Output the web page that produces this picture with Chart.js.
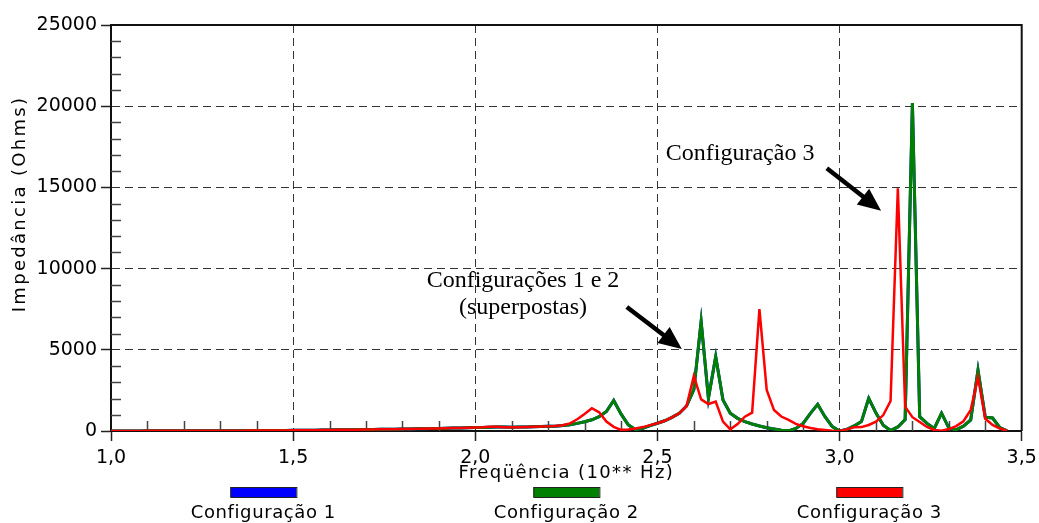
<!DOCTYPE html>
<html>
<head>
<meta charset="utf-8">
<script src="https://cdn.jsdelivr.net/npm/chart.js@4.4.1/dist/chart.umd.min.js"></script>
<style>
  html, body { margin: 0; padding: 0; background: #fff; }
  #wrap { width: 1039px; height: 523px; }
</style>
</head>
<body>
<div id="wrap"><canvas id="myChart"></canvas></div>
<script>
// log10 of frequency (Hz)
let freqs = [
  1.00, 1.02, 1.04, 1.06, 1.08, 1.10, 1.12, 1.14, 1.16, 1.18,
  1.20, 1.22, 1.24, 1.26, 1.28, 1.30, 1.32, 1.34, 1.36, 1.38,
  1.40, 1.42, 1.44, 1.46, 1.48, 1.50, 1.52, 1.54, 1.56, 1.58,
  1.60, 1.62, 1.64, 1.66, 1.68, 1.70, 1.72, 1.74, 1.76, 1.78,
  1.80, 1.82, 1.84, 1.86, 1.88, 1.90, 1.92, 1.94, 1.96, 1.98,
  2.00, 2.02, 2.04, 2.06, 2.08, 2.10, 2.12, 2.14, 2.16, 2.18,
  2.20, 2.22, 2.24, 2.26, 2.28, 2.30, 2.32, 2.34, 2.36, 2.38,
  2.40, 2.42, 2.44, 2.46, 2.48, 2.50, 2.52, 2.54, 2.56, 2.58,
  2.60, 2.62, 2.64, 2.66, 2.68, 2.70, 2.72, 2.74, 2.76, 2.78,
  2.80, 2.82, 2.84, 2.86, 2.88, 2.90, 2.92, 2.94, 2.96, 2.98,
  3.00, 3.02, 3.04, 3.06, 3.08, 3.10, 3.12, 3.14, 3.16, 3.18,
  3.20, 3.22, 3.24, 3.26, 3.28, 3.30, 3.32, 3.34, 3.36, 3.38,
  3.40, 3.42, 3.44, 3.46
];

// impedance (Ohms)
let config2 = [
  5, 5, 6, 6, 7, 8, 8, 9, 10, 11,
  12, 13, 14, 15, 17, 18, 20, 21, 23, 25,
  27, 29, 31, 34, 37, 40, 44, 48, 53, 58,
  64, 70, 74, 79, 84, 90, 95, 101, 107, 113,
  120, 127, 135, 143, 152, 160, 170, 180, 190, 200,
  208, 222, 238, 245, 240, 236, 240, 250, 262, 272,
  285, 300, 335, 390, 470, 570, 690, 880, 1200, 1880,
  1050, 380, 80, 170, 330, 480, 630, 840, 1090, 1540,
  2550, 6750, 2010, 4580, 1910, 1090, 780, 575, 430, 310,
  200, 120, 40, 10, 160, 470, 1090, 1640, 880, 270,
  0, 100, 310, 580, 2010, 1100, 350, 30, 250, 700,
  20200, 880, 470, 160, 1100, 180, 70, 300, 680, 3750,
  850, 800, 200, 10
];
let config3 = [
  5, 5, 6, 6, 7, 8, 8, 9, 10, 11,
  12, 13, 14, 15, 17, 18, 20, 21, 23, 25,
  27, 29, 31, 34, 37, 40, 44, 48, 53, 58,
  64, 70, 74, 79, 84, 90, 95, 101, 107, 113,
  120, 127, 135, 143, 152, 160, 170, 180, 190, 200,
  212, 232, 262, 258, 236, 228, 236, 248, 262, 275,
  290, 315, 360, 470, 720, 1050, 1400, 1150, 580, 260,
  70, 90, 160, 240, 360, 480, 630, 840, 1090, 1540,
  3390, 1950, 1660, 1810, 580, 100, 430, 880, 1130, 7500,
  2530, 1290, 890, 680, 440, 290, 180, 110, 60, 20,
  0, 100, 230, 240, 370, 580, 980, 1850, 14950, 1500,
  850, 550, 250, 60, 20, 120, 300, 600, 1300, 3300,
  750, 370, 150, 20
];
// configurations 1 and 2 are superposed
let config1 = config2.slice();

let names = ['Configuração 1', 'Configuração 2', 'Configuração 3'];
let colors = ['#0000ff', '#008000', '#ff0000'];
let xTickValues = [1.0, 1.5, 2.0, 2.5, 3.0, 3.5];
let yTickValues = [0, 5000, 10000, 15000, 20000, 25000];

let sans = 'DejaVu Sans';
let serif = 'Liberation Serif';

function points(vals) {
  return freqs.map((f, i) => ({x: f, y: vals[i]}));
}

function drawArrow(ctx, x0, y0, x1, y1) {
  let ang = Math.atan2(y1 - y0, x1 - x0);
  let head = 23, half = 10;
  let bx = x1 - head * Math.cos(ang), by = y1 - head * Math.sin(ang);
  ctx.beginPath();
  ctx.lineWidth = 4.5;
  ctx.moveTo(x0, y0);
  ctx.lineTo(bx + 2 * Math.cos(ang), by + 2 * Math.sin(ang));
  ctx.stroke();
  ctx.beginPath();
  ctx.moveTo(x1, y1);
  ctx.lineTo(bx + half * Math.sin(ang), by - half * Math.cos(ang));
  ctx.lineTo(bx - half * Math.sin(ang), by + half * Math.cos(ang));
  ctx.closePath();
  ctx.fill();
}

let decor = {
  id: 'decor',
  beforeDatasetsDraw(chart) {
    let {ctx, chartArea: a, scales: {x, y}} = chart;
    ctx.save();
    // minor ticks inside the frame
    ctx.strokeStyle = '#444';
    ctx.lineWidth = 1.5;
    ctx.beginPath();
    for (let v = 1000; v < 25000; v += 1000) {
      if (v % 5000 === 0) continue;
      let py = Math.round(y.getPixelForValue(v)) + 0.5;
      ctx.moveTo(a.left, py);
      ctx.lineTo(a.left + 10, py);
    }
    for (let i = 11; i < 35; i++) {
      if (i % 5 === 0) continue;
      let px = Math.round(x.getPixelForValue(i / 10)) + 0.5;
      ctx.moveTo(px, a.bottom);
      ctx.lineTo(px, a.bottom - 10);
    }
    ctx.stroke();
    // solid top and right border
    ctx.strokeStyle = '#111';
    ctx.lineWidth = 2;
    ctx.beginPath();
    ctx.moveTo(a.left, a.top);
    ctx.lineTo(a.right, a.top);
    ctx.lineTo(a.right, a.bottom);
    ctx.stroke();
    ctx.restore();
  },
  afterDraw(chart) {
    let {ctx, chartArea: a, scales: {x, y}} = chart;
    let cx = (a.left + a.right) / 2;
    ctx.save();
    ctx.fillStyle = '#000';
    ctx.strokeStyle = '#000';

    // axis titles
    ctx.font = '18px "' + sans + '"';
    ctx.textAlign = 'center';
    ctx.textBaseline = 'alphabetic';
    ctx.letterSpacing = '1.4px';
    ctx.fillText('Freqüência (10** Hz)', cx, 478);
    ctx.save();
    ctx.translate(25, 204);
    ctx.rotate(-Math.PI / 2);
    ctx.letterSpacing = '2.3px';
    ctx.fillText('Impedância (Ohms)', 0, 0);
    ctx.restore();

    // legend: colour bar above each name
    ctx.font = '18px "' + sans + '"';
    ctx.letterSpacing = '0.6px';
    names.forEach((name, i) => {
      let lx = cx + (i - 1) * 303;
      ctx.fillStyle = colors[i];
      ctx.fillRect(lx - 33, a.bottom + 56, 66, 10);
      ctx.strokeStyle = '#222';
      ctx.lineWidth = 1;
      ctx.strokeRect(lx - 33 + 0.5, a.bottom + 56 + 0.5, 66, 10);
      ctx.fillStyle = '#000';
      ctx.fillText(name, lx, a.bottom + 87);
    });

    // annotations
    ctx.letterSpacing = '0px';
    ctx.font = '24px "' + serif + '"';
    ctx.fillText('Configuração 3', x.getPixelForValue(2.727), y.getPixelForValue(16690));
    ctx.fillText('Configurações 1 e 2', x.getPixelForValue(2.131), y.getPixelForValue(8870));
    ctx.fillText('(superpostas)', x.getPixelForValue(2.131), y.getPixelForValue(7200));

    ctx.fillStyle = '#000';
    ctx.strokeStyle = '#000';
    drawArrow(ctx,
      x.getPixelForValue(2.965), y.getPixelForValue(16180),
      x.getPixelForValue(3.114), y.getPixelForValue(13560));
    drawArrow(ctx,
      x.getPixelForValue(2.416), y.getPixelForValue(7640),
      x.getPixelForValue(2.567), y.getPixelForValue(5050));
    ctx.restore();
  }
};

let ctx = document.getElementById('myChart');

let myChart = new Chart(ctx, {
  type: 'line',
  data: {
    datasets: [
      {label: names[2], data: points(config3), borderColor: colors[2], borderWidth: 2.5, order: 0},
      {label: names[1], data: points(config2), borderColor: colors[1], borderWidth: 3, order: 1},
      {label: names[0], data: points(config1), borderColor: colors[0], borderWidth: 3, order: 2}
    ]
  },
  options: {
    responsive: true,
    maintainAspectRatio: false,
    animation: false,
    devicePixelRatio: 1,
    elements: {
      point: {radius: 0},
      line: {tension: 0, fill: false}
    },
    layout: {
      padding: {top: 25, right: 17.3, left: 0, bottom: 0}
    },
    plugins: {
      legend: {display: false},
      tooltip: {enabled: false}
    },
    scales: {
      x: {
        type: 'linear',
        min: 1,
        max: 3.5,
        afterBuildTicks: (scale) => {
          scale.ticks = xTickValues.map(v => ({value: v}));
        },
        afterFit: (scale) => {
          scale.height = 92;
          scale.paddingLeft = 0;
          scale.paddingRight = 0;
        },
        ticks: {
          color: '#000',
          padding: 6,
          maxRotation: 0,
          font: {family: sans, size: 19},
          callback: (value) => value.toFixed(1).replace('.', ',')
        },
        grid: {
          color: '#333',
          lineWidth: 1,
          tickLength: 10,
          tickColor: '#222',
          tickWidth: 1.5
        },
        border: {display: true, color: '#111', width: 2, dash: [8, 5]}
      },
      y: {
        min: 0,
        max: 25000,
        afterBuildTicks: (scale) => {
          scale.ticks = yTickValues.map(v => ({value: v}));
        },
        afterFit: (scale) => {
          scale.width = 111;
          scale.paddingTop = 0;
          scale.paddingBottom = 0;
        },
        ticks: {
          color: '#000',
          padding: 4,
          font: {family: sans, size: 19},
          callback: (value) => String(value)
        },
        grid: {
          color: '#333',
          lineWidth: 1,
          tickLength: 10,
          tickColor: '#222',
          tickWidth: 1.5
        },
        border: {display: true, color: '#111', width: 2, dash: [8, 5]}
      }
    }
  },
  plugins: [decor]
});
</script>
</body>
</html>
